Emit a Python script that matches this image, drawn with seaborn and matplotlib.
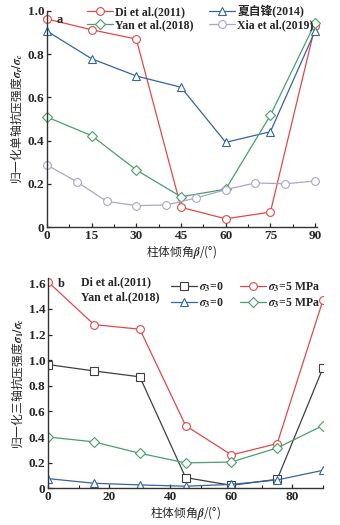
import matplotlib
matplotlib.use("Agg")
import matplotlib.pyplot as plt
import seaborn as sns
import numpy as np
from matplotlib.ticker import MultipleLocator
from matplotlib.lines import Line2D

# ---------------- data ----------------
# panel a
beta_a = [0, 15, 30, 45, 60, 75, 90]
di_a = [0.963, 0.913, 0.870, 0.091, 0.038, 0.069, 0.93]
xia_zf = [0.907, 0.779, 0.699, 0.647, 0.392, 0.441, 0.907]
yan_a = [0.509, 0.423, 0.264, 0.140, 0.175, 0.517, 0.944]
beta_xia = [0, 10, 20, 30, 40, 50, 60, 70, 80, 90]
xia_2019 = [0.287, 0.210, 0.119, 0.099, 0.102, 0.134, 0.173, 0.204, 0.200, 0.213]

# panel b
beta_b = [0, 15, 30, 45, 60, 75, 90]
di_s0 = [0.966, 0.916, 0.870, 0.083, 0.023, 0.070, 0.94]
di_s5 = [1.61, 1.278, 1.242, 0.489, 0.260, 0.349, 1.47]
yan_s0 = [0.075, 0.039, 0.026, 0.016, 0.030, 0.065, 0.14]
yan_s5 = [0.400, 0.362, 0.273, 0.198, 0.205, 0.315, 0.49]

labels_a = ["Di et al.(2011)", "夏自锋(2014)", "Yan et al.(2018)", "Xia et al.(2019)"]
xticks_a = [0, 15, 30, 45, 60, 75, 90]
yticks_a = [0, 0.2, 0.4, 0.6, 0.8, 1.0]
xticks_b = [0, 20, 40, 60, 80]
yticks_b = [0, 0.2, 0.4, 0.6, 0.8, 1.0, 1.2, 1.4, 1.6]

# ---------------- style ----------------
sns.set_theme(style="ticks")
plt.rcParams["font.family"] = ["Liberation Serif", "Noto Sans CJK SC"]
plt.rcParams["font.weight"] = "bold"
plt.rcParams["mathtext.fontset"] = "stix"

RED = "#e2474b"
BLUE = "#33659f"
GREEN = "#4a9f6c"
PURPLE = "#a9a7c9"
BLACK = "#3f3f3f"

fig = plt.figure(figsize=(3.4, 5.25), dpi=100)
ax1 = fig.add_axes([0.138, 0.5676, 0.794, 0.4115])
ax2 = fig.add_axes([0.142, 0.070, 0.808, 0.400])

ms = 5.6
lw = 0.9

def series(ax, x, y, color, marker, clip=True):
    sns.lineplot(x=x, y=y, ax=ax, color=color, marker=marker,
                 markersize=(ms - 0.8 if marker == "D" else ms),
                 markerfacecolor="white", markeredgecolor=color, markeredgewidth=0.8,
                 linewidth=lw, clip_on=clip, legend=False)

def handle(c, m):
    return Line2D([], [], color=c, marker=m, markersize=(ms - 0.8 if m == "D" else ms),
                  markerfacecolor="white", markeredgecolor=c, markeredgewidth=0.8,
                  linewidth=lw)

# ---- panel a ----
series(ax1, beta_a, di_a, RED, "o", clip=False)
series(ax1, beta_a, xia_zf, BLUE, "^", clip=False)
series(ax1, beta_a, yan_a, GREEN, "D", clip=False)
series(ax1, beta_xia, xia_2019, PURPLE, "o", clip=False)

ax1.set_xlim(0, 90.6)
ax1.set_ylim(0, 1.0)
ax1.set_xticks(xticks_a)
ax1.set_yticks(yticks_a)
ax1.set_yticklabels(["0", "0.2", "0.4", "0.6", "0.8", "1.0"])
ax1.xaxis.set_minor_locator(MultipleLocator(7.5))

h_a = [handle(RED, "o"), handle(BLUE, "^"), handle(GREEN, "D"), handle(PURPLE, "o")]
ax1.legend([h_a[0], h_a[2], h_a[1], h_a[3]],
           [labels_a[0], labels_a[2], labels_a[1], labels_a[3]],
           ncol=2, frameon=False, loc="upper left",
           bbox_to_anchor=(0.13, 1.048), handlelength=2.2, handletextpad=0.2,
           columnspacing=1.3, labelspacing=0.1, borderaxespad=0,
           prop=dict(family=["Liberation Serif", "Noto Sans CJK SC"], weight="bold", size=8.5))
ax1.text(0.035, 0.985, "a", transform=ax1.transAxes, fontsize=9, fontweight="bold",
         va="top", ha="left")
ax1.set_xlabel("柱体倾角$\\beta$/(°)", fontfamily="Noto Sans CJK SC", fontsize=8.5, labelpad=1)
ax1.set_ylabel("归一化单轴抗压强度$\\sigma_r/\\sigma_c$", fontfamily="Noto Sans CJK SC",
               fontsize=8.5, labelpad=2)

# ---- panel b ----
series(ax2, beta_b, di_s0, BLACK, "s")
series(ax2, beta_b, di_s5, RED, "o")
series(ax2, beta_b, yan_s0, BLUE, "^")
series(ax2, beta_b, yan_s5, GREEN, "D")

ax2.set_xlim(0, 90)
ax2.set_ylim(0, 1.64)
ax2.set_xticks(xticks_b)
ax2.set_yticks(yticks_b)
ax2.set_yticklabels(["0", "0.2", "0.4", "0.6", "0.8", "1.0", "1.2", "1.4", "1.6"])
ax2.xaxis.set_minor_locator(MultipleLocator(10))

h_b = [handle(BLACK, "s"), handle(BLUE, "^"), handle(RED, "o"), handle(GREEN, "D")]
ax2.legend(h_b, ["$\\sigma_3$=0", "$\\sigma_3$=0", "$\\sigma_3$=5 MPa", "$\\sigma_3$=5 MPa"],
           ncol=2, frameon=False, loc="upper left", bbox_to_anchor=(0.43, 1.015),
           handlelength=2.2, handletextpad=0.2, columnspacing=1.3, labelspacing=0.25,
           borderaxespad=0, prop=dict(family="Liberation Serif", weight="bold", size=8.5))
ax2.text(0.12, 0.98, "Di et al.(2011)", transform=ax2.transAxes, fontsize=8.5,
         fontweight="bold", va="center", ha="left")
ax2.text(0.12, 0.91, "Yan et al.(2018)", transform=ax2.transAxes, fontsize=8.5,
         fontweight="bold", va="center", ha="left")
ax2.text(0.035, 1.0, "b", transform=ax2.transAxes, fontsize=9, fontweight="bold",
         va="top", ha="left")
ax2.set_xlabel("柱体倾角$\\beta$/(°)", fontfamily="Noto Sans CJK SC", fontsize=8.5, labelpad=1)
ax2.set_ylabel("归一化三轴抗压强度$\\sigma_1/\\sigma_c$", fontfamily="Noto Sans CJK SC",
               fontsize=8.5, labelpad=2)

for ax in (ax1, ax2):
    sns.despine(ax=ax)
    ax.tick_params(axis="both", which="major", direction="in", length=3, width=0.9,
                   labelsize=9.5, pad=2)
    ax.tick_params(axis="x", which="minor", direction="in", length=2, width=0.8)
    for lab in ax.get_xticklabels() + ax.get_yticklabels():
        lab.set_fontweight("bold")
        lab.set_fontfamily("Liberation Serif")
    for s in ("left", "bottom"):
        ax.spines[s].set_linewidth(1.0)
        ax.spines[s].set_color("#333333")

fig.savefig("out.png", dpi=100)
